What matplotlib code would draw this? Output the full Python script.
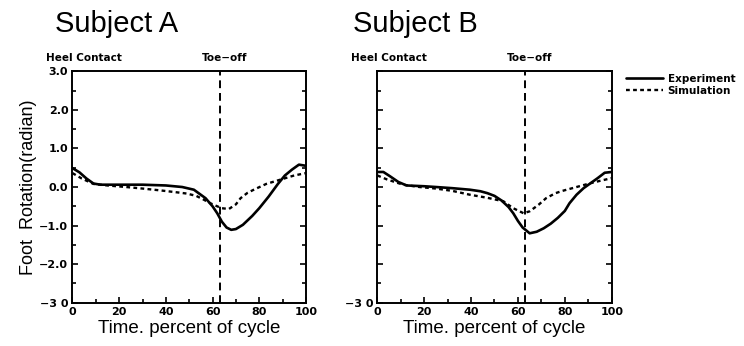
import numpy as np
import matplotlib
matplotlib.use("Agg")
import matplotlib.pyplot as plt
from matplotlib.ticker import MultipleLocator

plt.rcParams['font.family'] = ['DejaVu Sans']

# values (percent of gait cycle, radian)
pct_a = [0, 3, 6, 9, 12, 20, 30, 40, 47, 52, 57, 60, 62, 64, 66, 68, 70, 73, 77, 80, 84, 88, 91, 94, 97, 100]
exp_a = [0.49, 0.38, 0.22, 0.09, 0.06, 0.06, 0.06, 0.04, 0.0, -0.07, -0.29, -0.5, -0.68, -0.9, -1.05, -1.11, -1.09, -0.98, -0.75, -0.55, -0.25, 0.08, 0.3, 0.45, 0.58, 0.55]

pct_a_sim = [0, 4, 9, 15, 23, 30, 38, 45, 49, 53, 56, 59, 62, 64, 67, 70, 72, 75, 78, 83, 89, 95, 100]
sim_a = [0.36, 0.22, 0.08, 0.04, 0.0, -0.04, -0.09, -0.14, -0.17, -0.23, -0.32, -0.42, -0.5, -0.55, -0.57, -0.45, -0.29, -0.15, -0.06, 0.08, 0.19, 0.3, 0.36]

pct_b = [0, 2.6, 5.4, 9, 12.5, 20, 25, 32, 39.5, 44, 47, 50, 53, 56, 58, 60, 62, 65, 68, 71, 74, 77, 80, 82, 85, 88, 91, 94, 97, 100]
exp_b = [0.39, 0.39, 0.28, 0.13, 0.04, 0.02, 0.0, -0.03, -0.07, -0.11, -0.16, -0.23, -0.35, -0.52, -0.68, -0.88, -1.05, -1.2, -1.16, -1.07, -0.95, -0.8, -0.62, -0.42, -0.2, -0.03, 0.1, 0.23, 0.37, 0.39]

pct_b_sim = [0, 4, 11, 18, 25, 32, 39.5, 47, 53.8, 58, 62.4, 65, 69, 72, 76, 79, 85, 91, 95, 100]
sim_b = [0.3, 0.2, 0.06, 0.0, -0.04, -0.1, -0.2, -0.28, -0.37, -0.55, -0.68, -0.63, -0.45, -0.29, -0.16, -0.1, 0.0, 0.1, 0.16, 0.23]

toe_off = 63
xticks = [0, 20, 40, 60, 80, 100]
xticklabels = ['0', '20', '40', '60', '80', '100']
yticks = [-3, -2, -1, 0, 1, 2, 3]
yticklabels = ['\u22123 0', '\u22122.0', '\u22121.0', '0.0', '1.0', '2.0', '3.0']

fig = plt.figure(figsize=(7.44, 3.46), dpi=100)
ax1 = fig.add_axes([0.0974, 0.1251, 0.3138, 0.6688])
ax2 = fig.add_axes([0.5071, 0.1251, 0.3151, 0.6688])

panels = [
    (ax1, pct_a, exp_a, pct_a_sim, sim_a),
    (ax2, pct_b, exp_b, pct_b_sim, sim_b),
]

for ax, xe, ye, xs, ys in panels:
    ax.plot(xe, ye, color='black', lw=1.9, solid_capstyle='round', solid_joinstyle='round', label='Experiment')
    ax.plot(xs, ys, color='black', lw=1.7, linestyle=(0, (1.6, 1.4)), label='Simulation')
    ax.axvline(toe_off, color='black', lw=1.4, linestyle=(0, (4, 2.5)))
    ax.set_xlim(0, 100)
    ax.set_ylim(-3, 3)
    ax.set_xticks(xticks)
    ax.set_xticklabels(xticklabels, fontsize=8, weight='bold')
    ax.xaxis.set_minor_locator(MultipleLocator(10))
    ax.yaxis.set_minor_locator(MultipleLocator(0.5))
    ax.tick_params(which='both', direction='in', right=True, width=1.2)
    ax.tick_params(which='major', length=4, pad=3)
    ax.tick_params(which='minor', length=3)
    for s in ax.spines.values():
        s.set_linewidth(1.4)
    ax.set_xlabel('Time. percent of cycle', family='Liberation Sans', fontsize=13.5, labelpad=2)
    ax.text(5, 1.035, 'Heel Contact', transform=ax.get_xaxis_transform(),
            ha='center', va='bottom', fontsize=7.5, weight='bold')
    ax.text(65, 1.035, 'Toe\u2212off', transform=ax.get_xaxis_transform(),
            ha='center', va='bottom', fontsize=7.5, weight='bold')

ax1.set_yticks(yticks)
ax1.set_yticklabels(yticklabels, fontsize=8, weight='bold')
ax1.set_ylabel('Foot  Rotation(radian)', family='Liberation Sans', fontsize=13, labelpad=2)

ax2.set_yticks(yticks)
ax2.set_yticklabels(['\u22123 0'] + [''] * 6, fontsize=8, weight='bold')

fig.text(0.074, 0.93, 'Subject A', family='Liberation Sans', fontsize=21, va='center', ha='left')
fig.text(0.4745, 0.93, 'Subject B', family='Liberation Sans', fontsize=21, va='center', ha='left')

fig.legend(*ax2.get_legend_handles_labels(), loc='upper left', bbox_to_anchor=(0.842, 0.787),
           frameon=False, prop={'weight': 'bold', 'size': 7.5},
           handlelength=3.5, handletextpad=0.45, labelspacing=0.2, borderpad=0, borderaxespad=0)

fig.savefig('out.png', dpi=100)
